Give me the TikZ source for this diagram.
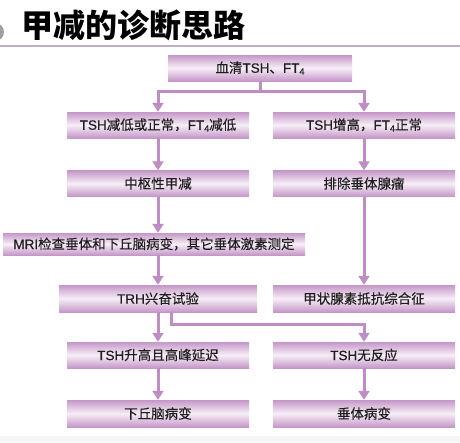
\documentclass[tikz,border=0pt]{standalone}
\usepackage{fontspec}
\setmainfont{Noto Sans CJK SC}
\newfontfamily\boxcjk{Noto Sans CJK SC}[FakeBold=0.35]
\newfontfamily\latf{Liberation Sans}[FakeBold=0.5]
\usetikzlibrary{arrows.meta}
\definecolor{boxpurple}{HTML}{C597C8}
\definecolor{boxlight}{HTML}{F7EEF7}
\definecolor{connpurple}{HTML}{C08CC6}
\definecolor{titleline}{HTML}{BFAFC4}
\definecolor{txt}{HTML}{1E1E1E}
\newcommand{\subfour}{\raisebox{-0.25ex}{\latf\fontsize{9}{9}\selectfont 4}}
\newcommand{\lt}[1]{{\latf #1}}
\begin{document}
\begin{tikzpicture}[x=1pt,y=-1pt,
  flowbox/.style={rectangle, inner sep=0pt, minimum height=26pt, text=txt,
    top color=boxpurple, bottom color=boxpurple, middle color=boxlight,
    font=\boxcjk\fontsize{13.5}{14}\selectfont},
  colbox/.style={flowbox, minimum width=182pt},
  conn/.style={draw=connpurple, line width=3pt},
  arr/.style={conn, -{Triangle[width=11pt,length=9pt]}}
]
\useasboundingbox (0,0) rectangle (460,442);
% title area
\fill[gray!75] (-5,32) circle (9);
\node[anchor=west, font=\fontsize{32}{32}\selectfont\bfseries, text=black, inner sep=0pt] (title) at (21,25) {甲减的诊断思路};
\draw[titleline, line width=2pt] (0,46) -- (460,46);
% bottom strip
\fill[gray!8] (0,436) rectangle (460,442);

% boxes
\node[flowbox, minimum width=184pt] (b0) at (260,68) {血清\lt{TSH}、\lt{FT}\subfour};
\node[colbox] (b2L) at (158,125) {\lt{TSH}减低或正常，\lt{FT}\subfour 减低};
\node[colbox] (b2R) at (364,125) {\lt{TSH}增高，\lt{FT}\subfour 正常};
\node[colbox] (b3L) at (158,183.5) {中枢性甲减};
\node[colbox] (b3R) at (364,183.5) {排除垂体腺瘤};
\node[flowbox, minimum width=302pt, minimum height=22pt] (mri) at (154,244) {\lt{MRI}检查垂体和下丘脑病变，其它垂体激素测定};
\node[flowbox, minimum width=198pt, minimum height=27pt] (trh) at (158,298.5) {\lt{TRH}兴奋试验};
\node[colbox, minimum height=27pt] (b5R) at (364,298.5) {甲状腺素抵抗综合征};
\node[colbox] (b6L) at (158,355) {\lt{TSH}升高且高峰延迟};
\node[colbox] (b6R) at (364,355) {\lt{TSH}无反应};
\node[colbox, minimum height=27pt] (b7L) at (158,413.5) {下丘脑病变};
\node[colbox, minimum height=27pt] (b7R) at (364,413.5) {垂体病变};

% connectors
\coordinate (j1) at (0,91);
\coordinate (j2) at (0,324);
\draw[arr] (b0.south) -- (b0.south |- j1) -| (b2L.north);
\draw[arr] (b0.south) -- (b0.south |- j1) -| (b2R.north);
\draw[arr] (b2L.south) -- (b3L.north);
\draw[arr] (b2R.south) -- (b3R.north);
\draw[arr] (b3L.south) -- (b3L.south |- mri.north);
\draw[arr] (b3R.south) -- (b5R.north);
\draw[arr] (b3L.south |- mri.south) -- (trh.north);
\draw[arr] (trh.south) -- (b6L.north);
\draw[arr] ([xshift=13pt]trh.south) -- ([xshift=13pt]trh.south |- j2) -| (b6R.north);
\draw[arr] (b6L.south) -- (b7L.north);
\draw[arr] (b6R.south) -- (b7R.north);
\end{tikzpicture}
\end{document}
